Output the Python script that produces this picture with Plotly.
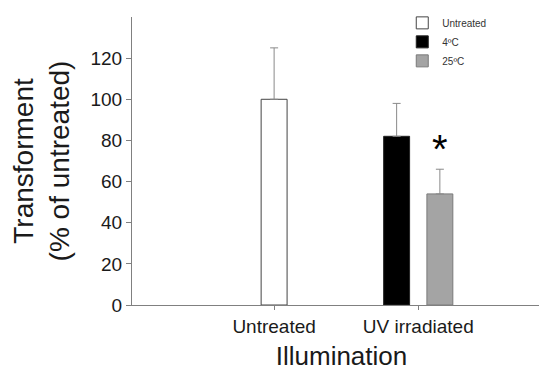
import plotly.graph_objects as go

# ---- data ----
categories = ["Untreated", "UV irradiated"]
series_names = ["Untreated", "4ºC", "25ºC"]
untreated_x = ["Untreated"]
untreated_y = [100]
untreated_err = [25]
cold_x = ["UV irradiated"]
cold_y = [82]
cold_err = [16]
warm_x = ["UV irradiated"]
warm_y = [54]
warm_err = [12]
y_ticks = [0, 20, 40, 60, 80, 100, 120]

FONT = "Arial, Liberation Sans, sans-serif"
BW = 0.18
OFF = 0.15

def err(vals):
    return dict(type="data", array=vals, arrayminus=[0] * len(vals), symmetric=False,
                color="#8a8a8a", thickness=1, width=4)

fig = go.Figure()
fig.add_trace(go.Bar(name=series_names[0], x=untreated_x, y=untreated_y, error_y=err(untreated_err),
                     width=BW, offset=-BW / 2,
                     marker=dict(color="white", line=dict(color="#444444", width=1))))
fig.add_trace(go.Bar(name=series_names[1], x=cold_x, y=cold_y, error_y=err(cold_err),
                     width=BW, offset=-OFF - BW / 2,
                     marker=dict(color="black", line=dict(color="#222222", width=1))))
fig.add_trace(go.Bar(name=series_names[2], x=warm_x, y=warm_y, error_y=err(warm_err),
                     width=BW, offset=OFF - BW / 2,
                     marker=dict(color="#a4a4a4", line=dict(color="#7a7a7a", width=1))))

fig.add_annotation(x=warm_x[0], y=warm_y[0] + warm_err[0], xshift=OFF * 140 + 1, yshift=-4,
                   text="*", showarrow=False, yanchor="bottom",
                   font=dict(family=FONT, size=40, color="black"))

fig.update_layout(
    width=551, height=371,
    margin=dict(l=132, r=0, t=17, b=66, autoexpand=False),
    paper_bgcolor="white", plot_bgcolor="white",
    barmode="overlay",
    font=dict(family=FONT, color="#1a1a1a"),
    showlegend=True,
    legend=dict(x=0.645, y=1.03, xanchor="left", yanchor="top",
                font=dict(family=FONT, size=10, color="#333333"),
                bgcolor="rgba(0,0,0,0)", tracegroupgap=0),
    xaxis=dict(type="category", categoryorder="array", categoryarray=categories,
               range=[-0.986, 1.921], showline=True, linecolor="#808080", linewidth=1,
               ticks="outside", ticklen=4, tickcolor="#808080", showgrid=False, zeroline=False,
               tickfont=dict(family=FONT, size=19, color="#1a1a1a"),
               title=dict(text="Illumination", standoff=19,
                          font=dict(family=FONT, size=26, color="#1a1a1a")),
               automargin=False),
    yaxis=dict(range=[0, 140], tickvals=y_ticks, showline=True, linecolor="#808080", linewidth=1,
               ticks="outside", ticklen=5, tickcolor="#808080", showgrid=False, zeroline=False,
               tickfont=dict(family=FONT, size=19, color="#1a1a1a"),
               title=dict(text="Transforment<br>(% of untreated)", standoff=12,
                          font=dict(family=FONT, size=28, color="#1a1a1a")),
               automargin=False),
)

fig.write_html("out.html", config={"displayModeBar": False},
               post_script="document.body.style.margin='0';document.body.style.overflow='hidden';")
